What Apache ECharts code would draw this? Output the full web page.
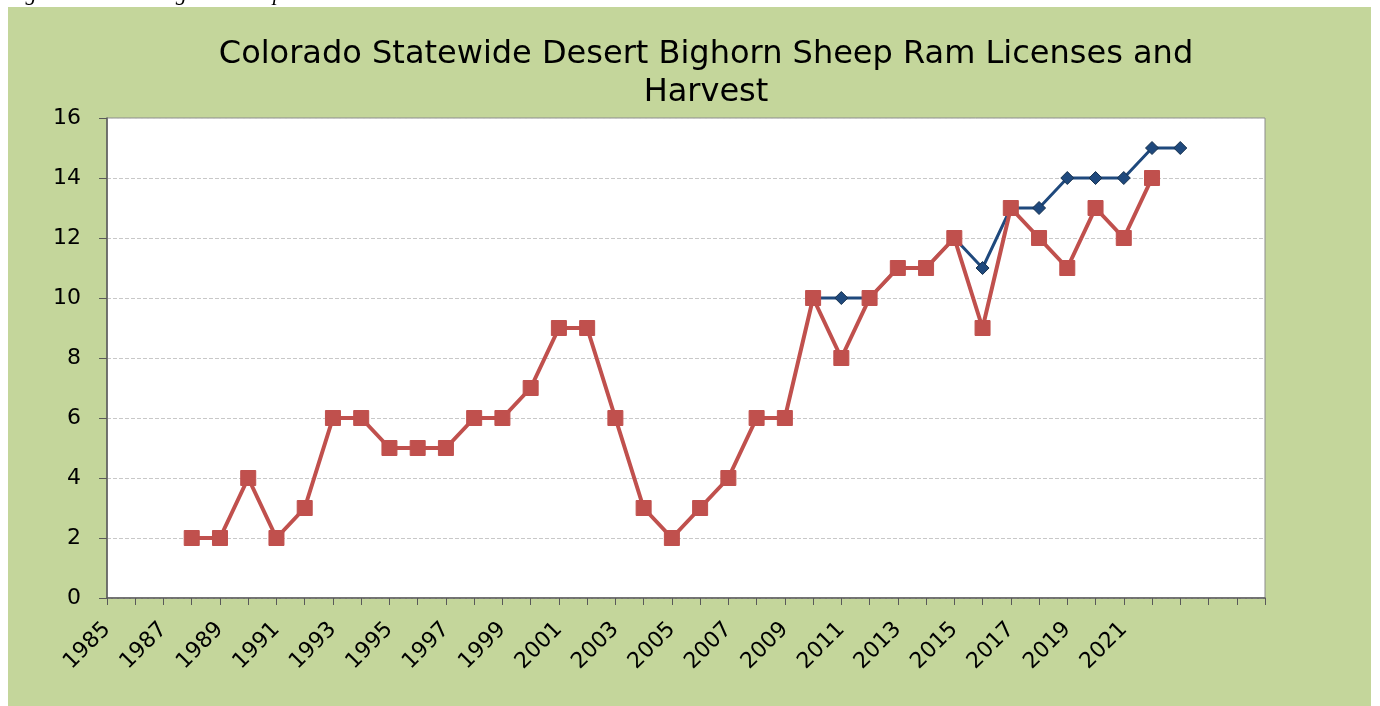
<!DOCTYPE html>
<html>
<head>
<meta charset="utf-8">
<title>Desert Bighorn Sheep Ram Licenses and Harvest</title>
<script src="https://cdn.jsdelivr.net/npm/echarts@6/dist/echarts.min.js"></script>
<style>
    html, body { margin: 0; padding: 0; background: #fff; }
    #chart { width: 1380px; height: 706px; }
</style>
</head>
<body>
<div id="chart"></div>
<script>
// years 1985 .. 2026
var years = ['1985','1986','1987','1988','1989','1990','1991','1992','1993','1994',
    '1995','1996','1997','1998','1999','2000','2001','2002','2003','2004',
    '2005','2006','2007','2008','2009','2010','2011','2012','2013','2014',
    '2015','2016','2017','2018','2019','2020','2021','2022','2023','2024',
    '2025','2026'];
var lastLabelYear = 2022; // labels stop at 2021 in the original

// licenses (blue), only visible from 2010 on
var licenses = [null,null,null,null,null,null,null,null,null,null,
    null,null,null,null,null,null,null,null,null,null,
    null,null,null,null,null,10,10,10,11,11,
    12,11,13,13,14,14,14,15,15,null,
    null,null];

// harvest (red)
var harvest = [null,null,null,2,2,4,2,3,6,6,
    5,5,5,6,6,7,9,9,6,3,
    2,3,4,6,6,10,8,10,11,11,
    12,9,13,12,11,13,12,14,null,null,
    null,null];

var yTicks = [0, 16, 2]; // min, max, step

var chart = echarts.init(document.getElementById('chart'));
chart.setOption({
    backgroundColor: '#fff',
    animation: false,
    graphic: [
        { type: 'rect', shape: { x: 8, y: 7, width: 1363, height: 705 }, style: { fill: '#c4d69b' }, z: -10 },
        { type: 'text', left: 6, top: -17,
          style: { text: 'Figure 6: Desert bighorn sheep ram licenses and harvest', font: 'italic 22px "Liberation Serif"', fill: '#000' } }
    ],
    title: {
        text: 'Colorado Statewide Desert Bighorn Sheep Ram Licenses and\nHarvest',
        left: 701, textAlign: 'center', top: 31,
        textStyle: { fontFamily: 'DejaVu Sans', fontWeight: 'normal', fontSize: 32, color: '#000', lineHeight: 38 }
    },
    grid: {
        left: 107, top: 118, right: 115, bottom: 108,
        show: true, backgroundColor: '#fff', borderColor: '#8c8c8c', borderWidth: 1
    },
    xAxis: {
        type: 'category', data: years, boundaryGap: false,
        axisLine: { lineStyle: { color: '#595959', width: 1.5 } },
        axisTick: { show: true, interval: 0, length: 7, lineStyle: { color: '#595959' } },
        axisLabel: {
            interval: 1, rotate: 45, fontFamily: 'DejaVu Sans', fontSize: 22, color: '#000', margin: 28,
            formatter: function (v) { return +v < lastLabelYear ? v : ''; }
        },
        splitLine: { show: false }
    },
    yAxis: {
        type: 'value', min: yTicks[0], max: yTicks[1], interval: yTicks[2],
        axisLine: { show: true, lineStyle: { color: '#595959', width: 1.5 } },
        axisTick: { show: true, length: 8, lineStyle: { color: '#595959' } },
        axisLabel: { fontFamily: 'DejaVu Sans', fontSize: 22, color: '#000', margin: 26 },
        splitLine: { lineStyle: { color: '#c8c8c8', type: 'dashed' } }
    },
    series: [
        {
            name: 'Licenses', type: 'line', data: licenses,
            symbol: 'diamond', symbolSize: 13,
            lineStyle: { color: '#1f497d', width: 3 },
            itemStyle: { color: '#1f497d', borderColor: '#17324f', borderWidth: 1 },
            z: 2
        },
        {
            name: 'Harvest', type: 'line', data: harvest,
            symbol: 'rect', symbolSize: 15,
            lineStyle: { color: '#c0504d', width: 4 },
            itemStyle: { color: '#c0504d', borderColor: '#c0504d' },
            z: 3
        }
    ]
});
</script>
</body>
</html>
